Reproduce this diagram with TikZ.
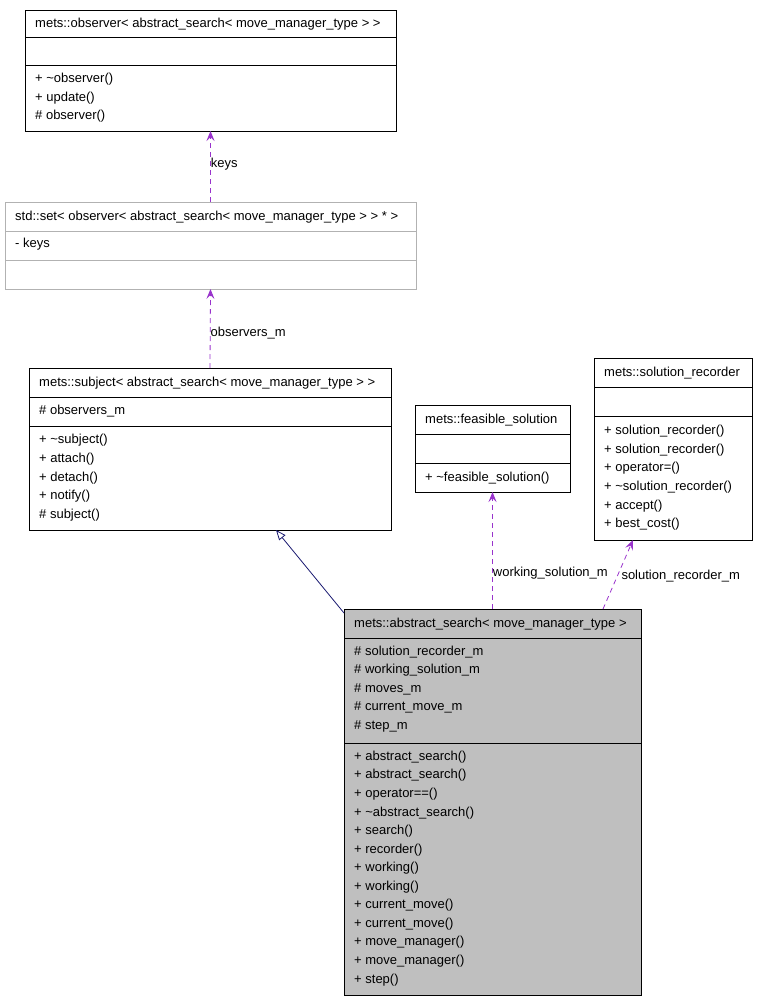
\documentclass[tikz,border=0pt]{standalone}
\usepackage{fontspec}
\setmainfont{Liberation Sans}
\usetikzlibrary{arrows.meta,calc}
\begin{document}
\begin{tikzpicture}[x=1pt,y=-1pt,
  box/.style={draw=black,line width=0.8pt,anchor=north west,inner sep=0,outer sep=0},
  gbox/.style={box,draw=black!30},
  txt/.style={anchor=west,inner sep=0,font=\fontsize{13}{15}\selectfont},
  sep/.style={line width=0.8pt},
  dep/.style={draw={rgb,255:red,153;green,51;blue,204},dashed,dash pattern=on 5pt off 4pt,line width=0.8pt,
     -{Stealth[length=10pt,width=8pt,inset=4pt]}},
  inh/.style={draw={rgb,255:red,25;green,25;blue,112},line width=0.8pt,-{Triangle[open,length=10pt,width=8pt]}},
  lbl/.style={anchor=west,inner sep=0,font=\fontsize{13}{15}\selectfont}]
\useasboundingbox (0,0) rectangle (757,1003);
% observer
\node[box,minimum width=371pt,minimum height=121pt] (obs) at (25,10) {};
\draw[sep] (25,37)--(396,37) (25,65)--(396,65);
\node[txt] (obs0) at (35,24) {mets::observer< abstract\_search< move\_manager\_type > >};
\node[txt] (obs1) at (35,79) {+ \textasciitilde observer()};
\node[txt] (obs2) at (35,98) {+ update()};
\node[txt] (obs3) at (35,116) {\# observer()};
% set
\node[gbox,minimum width=411pt,minimum height=87pt] (set) at (5,202) {};
\draw[sep,black!30] (5,231)--(416,231) (5,260)--(416,260);
\node[txt] (set0) at (15,217) {std::set< observer< abstract\_search< move\_manager\_type > > * >};
\node[txt] (set1) at (15,244) {- keys};
% subject
\node[box,minimum width=362pt,minimum height=162pt] (sub) at (29,368) {};
\draw[sep] (29,397)--(391,397) (29,426)--(391,426);
\node[txt] (sub0) at (39,383) {mets::subject< abstract\_search< move\_manager\_type > >};
\node[txt] (sub1) at (39,411) {\# observers\_m};
\node[txt] (sub2) at (39,440) {+ \textasciitilde subject()};
\node[txt] (sub3) at (39,459) {+ attach()};
\node[txt] (sub4) at (39,478) {+ detach()};
\node[txt] (sub5) at (39,496) {+ notify()};
\node[txt] (sub6) at (39,515) {\# subject()};
% feasible
\node[box,minimum width=155pt,minimum height=87pt] (fs) at (415,405) {};
\draw[sep] (415,434)--(570,434) (415,463)--(570,463);
\node[txt] (fs0) at (425,420) {mets::feasible\_solution};
\node[txt] (fs1) at (425,478) {+ \textasciitilde feasible\_solution()};
% solution recorder
\node[box,minimum width=158pt,minimum height=182pt] (sr) at (594,358) {};
\draw[sep] (594,387)--(752,387) (594,416)--(752,416);
\node[txt] (sr0) at (604,373) {mets::solution\_recorder};
\node[txt] (sr1) at (604,431) {+ solution\_recorder()};
\node[txt] (sr2) at (604,450) {+ solution\_recorder()};
\node[txt] (sr3) at (604,468) {+ operator=()};
\node[txt] (sr4) at (604,487) {+ \textasciitilde solution\_recorder()};
\node[txt] (sr5) at (604,506) {+ accept()};
\node[txt] (sr6) at (604,524) {+ best\_cost()};
% abstract search
\node[box,fill=black!25,minimum width=297pt,minimum height=386pt] (abs) at (344,609) {};
\draw[sep] (344,638)--(641,638) (344,743)--(641,743);
\node[txt] (a0) at (354,624) {mets::abstract\_search< move\_manager\_type >};
\foreach \t [count=\i] in {solution\_recorder\_m,working\_solution\_m,moves\_m,current\_move\_m,step\_m}
  \node[txt] (att\i) at (354,633+18.7*\i) {\# \t};
\foreach \t [count=\i] in {abstract\_search(),abstract\_search(),operator==(),\textasciitilde abstract\_search(),search(),recorder(),working(),working(),current\_move(),current\_move(),move\_manager(),move\_manager(),step()}
  \node[txt] (m\i) at (354,738.5+18.55*\i) {+ \t};
% connectors
\draw[dep] (set.north) -- (obs.south) node[lbl,pos=0.53] {keys};
\draw[dep] (sub.north) -- (set.south) node[lbl,pos=0.44] {observers\_m};
\draw[inh] ($(abs.north west)+(0,4)$) -- ($(sub.south east)+(-115,0)$);
\draw[dep] (abs.north) -- (fs.south) node[lbl,pos=0.31] {working\_solution\_m};
\draw[dep] ($(abs.north west)+(259,0)$) -- ($(sr.south west)+(39,0)$) node[lbl,pos=0.47,xshift=4pt] {solution\_recorder\_m};
\end{tikzpicture}
\end{document}
